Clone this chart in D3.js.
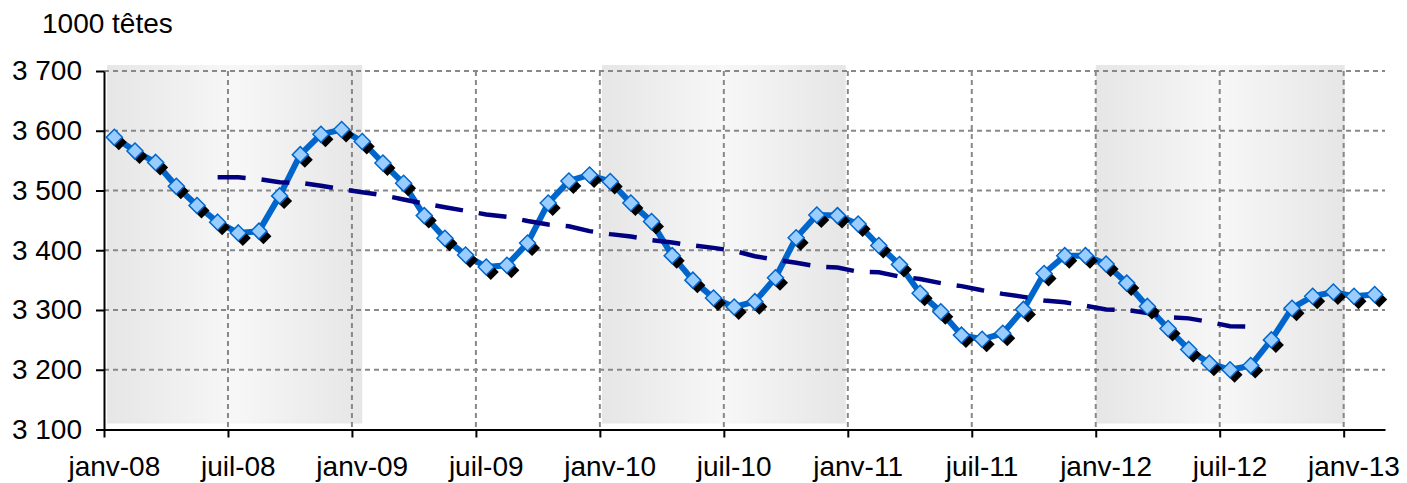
<!DOCTYPE html>
<html>
<head>
<meta charset="utf-8">
<script src="https://cdn.jsdelivr.net/npm/d3@7/dist/d3.min.js"></script>
<style>
body { margin: 0; background: #fff; }
text { font-family: 'Liberation Sans', Arial, sans-serif; }
</style>
</head>
<body>
<div id="chart"></div>
<script>
// cheptel mensuel, janv-08 -> févr-13 (1000 têtes)
var cheptel = [
    3589, 3566, 3547, 3507, 3475, 3447, 3429, 3432, 3491, 3560, 3594, 3602,
    3582, 3546, 3512, 3458, 3420, 3392, 3372, 3375, 3412, 3479, 3516, 3526,
    3515, 3479, 3448, 3391, 3350, 3320, 3305, 3314, 3354, 3421, 3459, 3458,
    3444, 3408, 3376, 3328, 3297, 3258, 3251, 3261, 3301, 3361, 3391, 3391,
    3377, 3345, 3306, 3269, 3234, 3211, 3200, 3207, 3250, 3303, 3323, 3330,
    3323, 3326
];
// moyenne mobile sur 12 mois, commence en juin-08 (mois n°5)
var moyenneDebut = 5;
var moyenne = [
    3522, 3522, 3519, 3514, 3513, 3508, 3502, 3497, 3492, 3485,
    3478, 3472, 3466, 3460, 3456, 3449, 3443, 3440, 3432, 3427,
    3423, 3417, 3413, 3408, 3404, 3399, 3390, 3384, 3379, 3373,
    3371, 3364, 3363, 3356, 3352, 3345, 3340, 3333, 3327, 3322,
    3316, 3313, 3307, 3301, 3300, 3295, 3288, 3286, 3280, 3273,
    3272
];
// bandes grisées (en mois depuis janv-08)
var bandes = [[0.15, 12.5], [24.1, 35.9], [48.0, 60.05]];
var bandeHaut = 3710;
var bandeBas = 3110;

var tickMois = [0, 6, 12, 18, 24, 30, 36, 42, 48, 54, 60];
var tickLabels = ['janv-08', 'juil-08', 'janv-09', 'juil-09', 'janv-10', 'juil-10',
    'janv-11', 'juil-11', 'janv-12', 'juil-12', 'janv-13'];
var yTicks = [3100, 3200, 3300, 3400, 3500, 3600, 3700];

var width = 1407;
var height = 483;
var padding = { top: 71, right: 22, bottom: 53.5, left: 104 };

var fr = d3.formatLocale({ decimal: ',', thousands: '\u00a0', grouping: [3], currency: ['', ' €'] });
var fmt = fr.format(',d');

var svg = d3.select('#chart')
    .append('svg')
    .attr('width', width)
    .attr('height', height);

var xScale = d3.scaleLinear()
    .domain([0, 62])
    .range([padding.left, width - padding.right]);
var yScale = d3.scaleLinear()
    .domain([3100, 3700])
    .range([height - padding.bottom, padding.top]);

// dégradé des bandes
var defs = svg.append('defs');
var grad = defs.append('linearGradient')
    .attr('id', 'gris')
    .attr('x1', '0%').attr('x2', '100%')
    .attr('y1', '0%').attr('y2', '0%');
grad.append('stop').attr('offset', '0%').attr('stop-color', '#e6e6e6');
grad.append('stop').attr('offset', '50%').attr('stop-color', '#f7f7f7');
grad.append('stop').attr('offset', '100%').attr('stop-color', '#e6e6e6');

svg.append('g')
    .selectAll('rect')
    .data(bandes)
    .enter()
    .append('rect')
    .attr('x', function (d) { return xScale(d[0]); })
    .attr('width', function (d) { return xScale(d[1]) - xScale(d[0]); })
    .attr('y', yScale(bandeHaut))
    .attr('height', yScale(bandeBas) - yScale(bandeHaut))
    .attr('fill', 'url(#gris)');

// quadrillage pointillé
svg.append('g')
    .selectAll('line')
    .data(yTicks.slice(1))
    .enter()
    .append('line')
    .attr('x1', xScale(0))
    .attr('x2', xScale(62))
    .attr('y1', function (d) { return yScale(d); })
    .attr('y2', function (d) { return yScale(d); })
    .attr('stroke', '#888')
    .attr('stroke-width', 2)
    .attr('stroke-dasharray', '5,4');

svg.append('g')
    .selectAll('line')
    .data(tickMois.slice(1))
    .enter()
    .append('line')
    .attr('x1', function (d) { return xScale(d); })
    .attr('x2', function (d) { return xScale(d); })
    .attr('y1', yScale(3700))
    .attr('y2', yScale(3100))
    .attr('stroke', '#888')
    .attr('stroke-width', 2)
    .attr('stroke-dasharray', '5,4');

// axes
var yAxis = d3.axisLeft(yScale)
    .tickValues(yTicks)
    .tickFormat(fmt)
    .tickSize(8)
    .tickSizeOuter(0)
    .tickPadding(14);
var gy = svg.append('g')
    .attr('transform', 'translate(' + padding.left + ',0)')
    .call(yAxis);
gy.selectAll('text').attr('font-size', '28px').attr('fill', '#000').attr('font-family', null);

var xAxis = d3.axisBottom(xScale)
    .tickValues(tickMois)
    .tickFormat('')
    .tickSize(8)
    .tickSizeOuter(0);
var gx = svg.append('g')
    .attr('transform', 'translate(0,' + yScale(3100) + ')')
    .call(xAxis);

[gx, gy].forEach(function (g) {
    g.select('.domain').attr('stroke', '#000').attr('stroke-width', 2);
    g.selectAll('.tick line').attr('stroke', '#000').attr('stroke-width', 2);
});

// libellés centrés sur le mois
svg.append('g')
    .selectAll('text')
    .data(tickMois)
    .enter()
    .append('text')
    .attr('x', function (d) { return xScale(d + 0.5); })
    .attr('y', yScale(3100) + 46)
    .attr('text-anchor', 'middle')
    .attr('font-size', '28px')
    .text(function (d, i) { return tickLabels[i]; });

svg.append('text')
    .attr('x', 42)
    .attr('y', 33)
    .attr('font-size', '28px')
    .text('1000 têtes');

// courbes
var ligne = d3.line()
    .x(function (d, i) { return xScale(i + 0.5); })
    .y(function (d) { return yScale(d); });
var ligneMoy = d3.line()
    .x(function (d, i) { return xScale(i + moyenneDebut + 0.5); })
    .y(function (d) { return yScale(d); });

svg.append('path')
    .attr('d', ligne(cheptel))
    .attr('fill', 'none')
    .attr('stroke', '#0066cc')
    .attr('stroke-width', 6)
    .attr('stroke-linejoin', 'round');

svg.append('path')
    .attr('d', ligneMoy(moyenne))
    .attr('fill', 'none')
    .attr('stroke', '#000080')
    .attr('stroke-width', 4.5)
    .attr('stroke-dasharray', '28,16');

// marqueurs losange avec ombre
var losange = 'M0,-8L8,0L0,8L-8,0Z';
svg.append('g')
    .selectAll('path')
    .data(cheptel)
    .enter()
    .append('path')
    .attr('d', losange)
    .attr('transform', function (d, i) {
        return 'translate(' + (xScale(i + 0.5) + 4.5) + ',' + (yScale(d) + 5) + ')';
    })
    .attr('fill', '#000');
svg.append('g')
    .selectAll('path')
    .data(cheptel)
    .enter()
    .append('path')
    .attr('d', losange)
    .attr('transform', function (d, i) {
        return 'translate(' + xScale(i + 0.5) + ',' + yScale(d) + ')';
    })
    .attr('fill', '#99ccff')
    .attr('stroke', '#0066cc')
    .attr('stroke-width', 1.5);
</script>
</body>
</html>
